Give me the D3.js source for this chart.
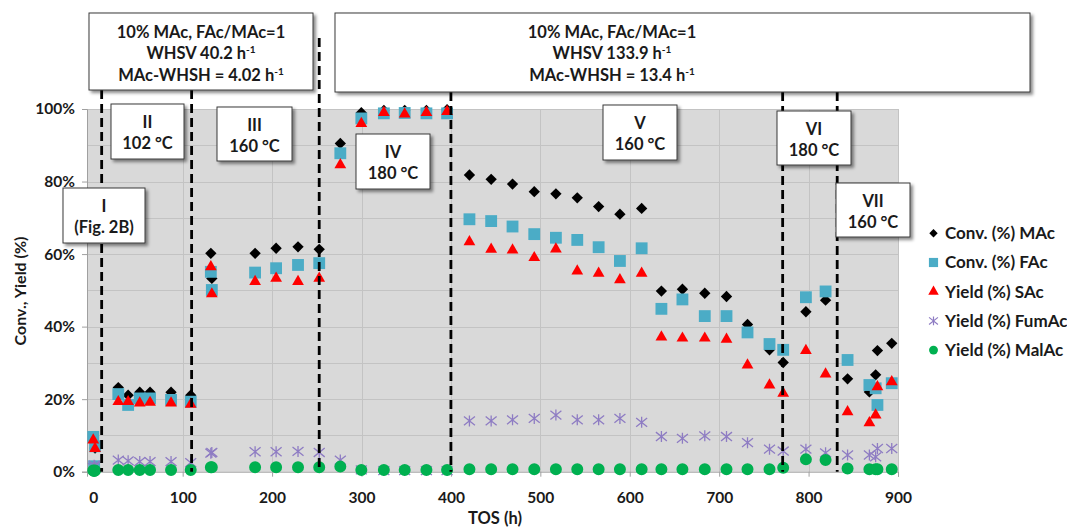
<!DOCTYPE html>
<html>
<head>
<meta charset="utf-8">
<script src="https://cdn.jsdelivr.net/npm/d3@7"></script>
<style>
  html, body { margin: 0; padding: 0; background: #fff; }
  svg { display: block; font-family: Lato, "Open Sans", "DejaVu Sans", sans-serif; }
</style>
</head>
<body>
<svg id="chart" width="1067" height="530"></svg>
<script>
// Time on stream (h) of each measurement
const tos = [0, 1, 2, 28, 39, 52, 63.5, 87, 109,
  131.5, 132.6, 181, 204.5, 229, 252.7,
  276.3, 299.8, 325, 348.3, 372.6, 395.7,
  420.7, 445, 468.9, 493.2, 517.4, 541.3, 565.2, 589, 613.3,
  635.4, 658.9, 683.9, 708.2, 731.7, 756.3, 771.6,
  797, 819,
  843.6, 868, 875, 877, 893];

// Conversion / yield values (%)
const convMAc = [8.5, 1.0, 6.5, 23.2, 21.1, 21.9, 21.9, 21.9, 21.1,
  60.2, 53.3, 60.2, 61.6, 62.0, 61.3,
  90.5, 99.0, 99.6, 99.6, 99.6, 99.8,
  81.8, 80.6, 79.3, 77.2, 76.6, 75.5, 73.1, 71.0, 72.6,
  49.8, 50.3, 49.2, 48.3, 40.6, 33.6, 30.1,
  44.1, 47.3,
  25.6, 22.0, 26.7, 33.4, 35.4];
const convFAc = [9.6, 1.5, 7.0, 21.4, 18.4, 20.2, 20.2, 19.8, 19.3,
  55.1, 50.1, 54.9, 56.1, 57.0, 57.5,
  87.8, 97.4, 98.8, 98.9, 98.8, 98.8,
  69.6, 69.1, 67.6, 65.5, 64.5, 63.9, 61.9, 58.1, 61.6,
  44.9, 47.5, 42.9, 42.9, 38.4, 35.2, 33.6,
  48.1, 49.7,
  30.8, 23.9, 23.0, 18.4, 24.4];
const yieldSAc = [8.7, 0.8, 6.4, 19.3, 19.3, 18.9, 19.1, 18.9, 18.6,
  56.5, 49.0, 52.4, 53.3, 52.4, 53.3,
  84.6, 96.0, 99.0, 98.6, 99.0, 99.3,
  63.4, 61.3, 61.1, 59.0, 61.4, 55.3, 54.7, 52.9, 54.7,
  37.1, 36.8, 36.8, 36.5, 29.4, 23.9, 21.6,
  33.4, 26.9,
  16.5, 13.5, 15.6, 23.4, 24.8];
const yieldFumAc = [1.2, 1.8, 1.5, 3.2, 3.0, 2.8, 2.8, 2.8, 2.5,
  5.1, 5.3, 5.5, 5.5, 5.6, 5.3,
  3.2, 0.5, 0.3, 0.3, 0.3, 0.3,
  14.0, 14.0, 14.3, 14.7, 15.6, 14.3, 14.3, 14.7, 13.6,
  9.7, 9.2, 9.9, 9.7, 8.0, 6.2, 5.7,
  6.2, 5.2,
  4.6, 4.6, 4.1, 6.4, 6.4];
const yieldMalAc = [0.3, 0.2, 0.3, 0.5, 0.5, 0.5, 0.5, 0.5, 0.5,
  1.2, 1.2, 1.2, 1.2, 1.2, 1.2,
  1.4, 0.5, 0.5, 0.5, 0.5, 0.5,
  0.7, 0.7, 0.7, 0.7, 0.7, 0.7, 0.7, 0.7, 0.7,
  0.7, 0.7, 0.7, 0.7, 0.7, 0.7, 1.1,
  3.4, 3.2,
  0.9, 0.7, 0.7, 0.7, 0.7];

const seriesNames = ["Conv. (%) MAc", "Conv. (%) FAc", "Yield (%) SAc", "Yield (%) FumAc", "Yield (%) MalAc"];

// Axis ticks
const xTickValues = [0, 100, 200, 300, 400, 500, 600, 700, 800, 900];
const yTickValues = [0, 20, 40, 60, 80, 100];
const yGridValues = [10, 20, 30, 40, 50, 60, 70, 80, 90];

// Boundaries between operating periods (TOS, h)
const phaseBounds = [9.4, 110, 252.7, 400, 771, 832];

// Period labels
const phaseLabels = [["I", "(Fig. 2B)"], ["II", "102 °C"], ["III", "160 °C"], ["IV", "180 °C"],
  ["V", "160 °C"], ["VI", "180 °C"], ["VII", "160 °C"]];

// Feed condition notes
const feedNotes = [
  ["10% MAc, FAc/MAc=1", "WHSV 40.2 h", "MAc-WHSH = 4.02 h"],
  ["10% MAc, FAc/MAc=1", "WHSV 133.9 h", "MAc-WHSH = 13.4 h"]
];

// ---------- layout ----------
const svg = d3.select("#chart");
const plot = { left: 87, right: 898, top: 109, bottom: 471.7 };

const x = d3.scaleLinear().domain([-7, 900]).range([plot.left, plot.right]);
const y = d3.scaleLinear().domain([0, 100]).range([plot.bottom, plot.top]);

const defs = svg.append("defs");
const shadow = defs.append("filter").attr("id", "shadow")
  .attr("x", "-20%").attr("y", "-20%").attr("width", "150%").attr("height", "150%");
shadow.append("feDropShadow").attr("dx", 2.5).attr("dy", 2.5).attr("stdDeviation", 1.6)
  .attr("flood-color", "#000").attr("flood-opacity", 0.45);

// plot area
svg.append("rect")
  .attr("x", plot.left).attr("y", plot.top)
  .attr("width", plot.right - plot.left).attr("height", plot.bottom - plot.top)
  .attr("fill", "#d9d9d9");

// gridlines
const grid = svg.append("g").attr("stroke", "#c3c3c3").attr("stroke-width", 1);
grid.selectAll("line.h").data(yGridValues.concat([100])).join("line")
  .attr("x1", plot.left).attr("x2", plot.right)
  .attr("y1", d => Math.round(y(d)) + 0.5).attr("y2", d => Math.round(y(d)) + 0.5);
grid.selectAll("line.v").data(xTickValues.filter(d => d > 0)).join("line")
  .attr("y1", plot.top).attr("y2", plot.bottom)
  .attr("x1", d => Math.round(x(d)) + 0.5).attr("x2", d => Math.round(x(d)) + 0.5);

// axes
const axisColor = "#a0a0a0";
const yAxis = svg.append("g").attr("transform", `translate(${plot.left},0)`)
  .call(d3.axisLeft(y).tickValues(yTickValues).tickFormat(d => d + "%").tickSize(5).tickPadding(7));
const xAxis = svg.append("g").attr("transform", `translate(0,${plot.bottom})`)
  .call(d3.axisBottom(x).tickValues(xTickValues).tickFormat(d3.format("d")).tickSize(5).tickPadding(15));
[xAxis, yAxis].forEach(a => {
  a.select(".domain").attr("stroke", axisColor);
  a.selectAll(".tick line").attr("stroke", axisColor);
  a.selectAll(".tick text").attr("fill", "#1a1a1a").attr("font-size", 15.5).attr("font-weight", 700)
    .attr("font-family", "Lato, sans-serif");
});

// axis titles
svg.append("text")
  .attr("transform", "translate(20,291) rotate(-90)")
  .attr("text-anchor", "middle").attr("dy", "0.35em")
  .attr("font-size", 16).attr("font-weight", 700).attr("fill", "#1a1a1a")
  .text("Conv., Yield (%)");
svg.append("text")
  .attr("x", 495).attr("y", 518).attr("dy", "0.35em")
  .attr("text-anchor", "middle")
  .attr("font-size", 16.5).attr("font-weight", 700).attr("fill", "#1a1a1a")
  .text("TOS (h)");

// ---------- markers ----------
const starType = {
  draw(ctx, size) {
    const r = Math.sqrt(size) / 2;
    ctx.moveTo(0, -r); ctx.lineTo(0, r);
    ctx.moveTo(-r, -r * 0.8); ctx.lineTo(r, r * 0.8);
    ctx.moveTo(-r, r * 0.8); ctx.lineTo(r, -r * 0.8);
  }
};

const seriesStyles = [
  { values: convMAc, type: d3.symbolSquare, size: 64, rotate: 45, fill: "#000", stroke: "none" },
  { values: convFAc, type: d3.symbolSquare, size: 140, rotate: 0, fill: "#4bacc6", stroke: "none" },
  { values: yieldSAc, type: d3.symbolTriangle, size: 60, rotate: 0, fill: "#ff0000", stroke: "none" },
  { values: yieldFumAc, type: starType, size: 121, rotate: 0, fill: "none", stroke: "#8e7cc3" },
  { values: yieldMalAc, type: d3.symbolCircle, size: 113, rotate: 0, fill: "#00b050", stroke: "none" }
];

const marks = svg.append("g");
seriesStyles.forEach((s, i) => {
  const sym = d3.symbol().type(s.type).size(s.size);
  marks.append("g").attr("class", "series-" + i)
    .selectAll("path").data(tos.map((t, k) => [t, s.values[k]])).join("path")
    .attr("d", sym)
    .attr("transform", d => `translate(${x(d[0])},${y(d[1])}) rotate(${s.rotate})`)
    .attr("fill", s.fill)
    .attr("stroke", s.stroke)
    .attr("stroke-width", s.stroke === "none" ? null : 1.3);
});

// ---------- period boundaries ----------
const boundTops = [90, 90, 38, 92, 92, 92];
svg.append("g").selectAll("line").data(phaseBounds).join("line")
  .attr("x1", d => x(d)).attr("x2", d => x(d))
  .attr("y1", (d, i) => boundTops[i]).attr("y2", y(0))
  .attr("stroke", "#000").attr("stroke-width", 2.8)
  .attr("stroke-dasharray", "9,5");

// ---------- notes ----------
const labelBoxes = [
  { x: 63, y: 188, w: 82, h: 55 },
  { x: 111, y: 104, w: 73, h: 55 },
  { x: 217, y: 107, w: 75, h: 54 },
  { x: 356, y: 134, w: 74, h: 55 },
  { x: 603, y: 105, w: 74, h: 55 },
  { x: 777, y: 111, w: 74, h: 54 },
  { x: 836, y: 183, w: 74, h: 54 }
];

const notes = svg.append("g");
labelBoxes.forEach((b, i) => {
  const g = notes.append("g");
  g.append("rect").attr("x", b.x).attr("y", b.y).attr("width", b.w).attr("height", b.h)
    .attr("fill", "#fff").attr("stroke", "#3a3a3a").attr("stroke-width", 1)
    .attr("filter", "url(#shadow)");
  phaseLabels[i].forEach((line, j) => {
    g.append("text").attr("x", b.x + b.w / 2).attr("y", b.y + 18 + j * 21).attr("dy", "0.35em")
      .attr("text-anchor", "middle").attr("font-size", 16.5).attr("font-weight", 700)
      .attr("fill", "#1a1a1a").text(line);
  });
});

const feedBoxes = [
  { x: 89, y: 13, w: 224, h: 77, cx: 201 },
  { x: 335, y: 13, w: 695, h: 79, cx: 612 }
];
feedBoxes.forEach((b, i) => {
  const g = notes.append("g");
  g.append("rect").attr("x", b.x).attr("y", b.y).attr("width", b.w).attr("height", b.h)
    .attr("fill", "#fff").attr("stroke", "#3a3a3a").attr("stroke-width", 1)
    .attr("filter", "url(#shadow)");
  feedNotes[i].forEach((line, j) => {
    const t = g.append("text").attr("x", b.cx).attr("y", 32 + j * 21.5).attr("dy", "0.35em")
      .attr("text-anchor", "middle").attr("font-size", 16.5).attr("font-weight", 700)
      .attr("fill", "#1a1a1a");
    t.append("tspan").text(line);
    if (j > 0) t.append("tspan").attr("dy", -6).attr("font-size", 10).text("-1");
  });
});

// ---------- legend ----------
const legend = svg.append("g");
const legendScale = [0.55, 0.6, 0.8, 0.65, 0.55];
seriesStyles.forEach((s, i) => {
  const cy = 233.3 + i * 29.2;
  const sym = d3.symbol().type(s.type).size(s.size * legendScale[i]);
  legend.append("path").attr("d", sym)
    .attr("transform", `translate(933.5,${cy}) rotate(${s.rotate})`)
    .attr("fill", s.fill).attr("stroke", s.stroke)
    .attr("stroke-width", s.stroke === "none" ? null : 1.2);
  legend.append("text").attr("x", 945).attr("y", cy).attr("dy", "0.35em")
    .attr("font-size", 17).attr("font-weight", 700).attr("fill", "#1a1a1a")
    .text(seriesNames[i]);
});
</script>
</body>
</html>
